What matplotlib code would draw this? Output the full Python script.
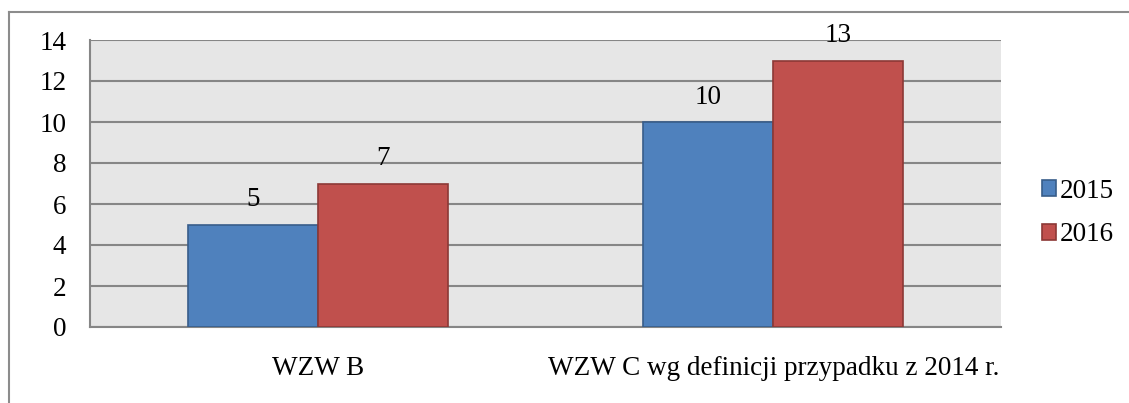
import matplotlib.pyplot as plt
from matplotlib.lines import Line2D
import numpy as np

categories = ["WZW B", "WZW C wg definicji przypadku z 2014 r."]
years = ["2015", "2016"]
values_2015 = [5, 10]
values_2016 = [7, 13]
y_ticks = [0, 2, 4, 6, 8, 10, 12, 14]

fill_colors = ["#4f81bd", "#c0504d"]
edge_colors = ["#385d8a", "#8c3836"]

plt.rcParams["font.family"] = ["Liberation Serif", "DejaVu Serif"]
plt.rcParams["font.size"] = 19.5

W, H = 1129, 403
fig = plt.figure(figsize=(W / 100, H / 100), dpi=100)

# plot area in pixel terms: x 90..1001, y 40..327
ax = fig.add_axes([90 / W, (H - 327) / H, 911 / W, 287 / H])
ax.set_facecolor("#e6e6e6")

x = np.arange(len(categories))
width = 0.285
series = [values_2015, values_2016]
for i, (year, vals) in enumerate(zip(years, series)):
    offs = (i - 0.5) * width
    bars = ax.bar(x + offs, vals, width, color=fill_colors[i],
                  edgecolor=edge_colors[i], linewidth=1.2, label=year, zorder=3)
    for b, v in zip(bars, vals):
        ax.annotate(str(v), (b.get_x() + b.get_width() / 2, v),
                    xytext=(0, 18), textcoords="offset points",
                    ha="center", va="center")

ax.set_xlim(-0.5, 1.5)
ax.set_ylim(0, 14)
ax.set_yticks(y_ticks)
ax.set_yticklabels([str(t) for t in y_ticks])
ax.set_xticks(x)
ax.set_xticklabels(categories)
ax.tick_params(axis="y", length=0, pad=17)
ax.tick_params(axis="x", length=0, pad=21)

ax.yaxis.grid(True, color="#868686", linewidth=1.5, zorder=1)
ax.set_axisbelow(True)
for side in ["top", "right"]:
    ax.spines[side].set_visible(False)
for side in ["left", "bottom"]:
    ax.spines[side].set_color("#868686")
    ax.spines[side].set_linewidth(1.5)

leg = fig.legend(loc="center left", bbox_to_anchor=(1042 / W, (H - 213) / H),
                 frameon=False, borderpad=0, borderaxespad=0,
                 handlelength=0.5, handleheight=0.5,
                 handletextpad=0.15, labelspacing=0.7)

# outer chart border (only top and left edges fall inside the image)
fig.add_artist(Line2D([9 / W, 9 / W], [0, (H - 12) / H], color="#8c8c8c",
                      linewidth=1.5, transform=fig.transFigure))
fig.add_artist(Line2D([9 / W, 1], [(H - 12) / H, (H - 12) / H], color="#8c8c8c",
                      linewidth=1.5, transform=fig.transFigure))

fig.savefig("out.png", dpi=100)
